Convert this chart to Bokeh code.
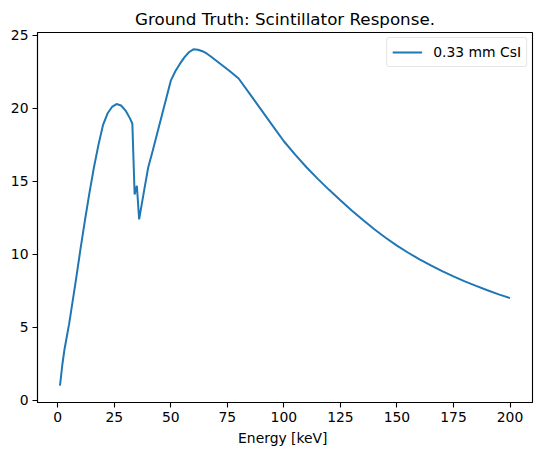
from bokeh.plotting import figure
from bokeh.models import Range1d, FixedTicker, Legend, LegendItem
from bokeh.embed import file_html
from bokeh.resources import INLINE

# Data
energy_kev = [1, 2, 3, 4, 5, 6, 8, 10, 12, 14, 16, 18, 20, 22, 24, 26, 28, 30,
              32, 33, 34, 35, 36, 38, 40, 42, 44, 46, 48, 50, 52, 54, 56, 58,
              60, 62, 64, 66, 68, 70, 72, 74, 76, 78, 80, 85, 90, 95, 100, 105,
              110, 115, 120, 125, 130, 135, 140, 145, 150, 155, 160, 165, 170,
              175, 180, 185, 190, 195, 200]
response = [1.0, 2.4, 3.5, 4.35, 5.2, 6.2, 8.2, 10.3, 12.3, 14.2, 15.95, 17.5,
            18.85, 19.65, 20.1, 20.3, 20.2, 19.85, 19.3, 18.95, 14.1, 14.7, 12.4,
            14.2, 15.95, 17.1, 18.3, 19.5, 20.7, 21.9, 22.55, 23.05, 23.5, 23.85,
            24.05, 24.02, 23.92, 23.75, 23.52, 23.28, 23.04, 22.8, 22.56, 22.31,
            22.05, 20.98, 19.9, 18.82, 17.75, 16.83, 15.97, 15.17, 14.42, 13.71,
            13.01, 12.35, 11.72, 11.14, 10.6, 10.11, 9.66, 9.24, 8.85, 8.49, 8.15,
            7.84, 7.54, 7.26, 7.0]
x_ticks = [0, 25, 50, 75, 100, 125, 150, 175, 200]
y_ticks = [0, 5, 10, 15, 20, 25]
series_label = "0.33 mm CsI"
title_text = "Ground Truth: Scintillator Response."
x_label = "Energy  [keV]"

FONT = "DejaVu Sans"

xr = max(energy_kev) - min(energy_kev)
yr = max(response) - min(response)
x_range = Range1d(min(energy_kev) - 0.05 * xr, max(energy_kev) + 0.05 * xr)
y_range = Range1d(min(response) - 0.05 * yr, max(response) + 0.05 * yr)

p = figure(width=543, height=455, output_backend="svg", toolbar_location=None,
           x_range=x_range, y_range=y_range,
           min_border_left=37, min_border_right=11, min_border_top=32,
           min_border_bottom=53)

p.title.text = title_text
p.title.align = "center"
p.title.text_font = FONT
p.title.text_font_size = "16.7px"
p.title.text_font_style = "normal"
p.title.text_color = "black"
p.title.standoff = 8

r = p.line(energy_kev, response, line_color="#1f77b4", line_width=2)

p.xgrid.visible = False
p.ygrid.visible = False
p.outline_line_color = "black"
p.outline_line_width = 1.1
p.background_fill_color = "white"
p.border_fill_color = "white"

for ax in (p.xaxis[0], p.yaxis[0]):
    ax.axis_line_color = "black"
    ax.axis_line_width = 1.1
    ax.major_tick_out = 5
    ax.major_tick_in = 0
    ax.major_tick_line_color = "black"
    ax.major_tick_line_width = 1.1
    ax.minor_tick_line_color = None
    ax.major_label_text_font = FONT
    ax.major_label_text_font_size = "13.9px"
    ax.major_label_text_color = "black"
    ax.major_label_standoff = 4

p.xaxis[0].ticker = FixedTicker(ticks=x_ticks)
p.yaxis[0].ticker = FixedTicker(ticks=y_ticks)
p.xaxis[0].axis_label = x_label
p.xaxis[0].axis_label_text_font = FONT
p.xaxis[0].axis_label_text_font_size = "13.9px"
p.xaxis[0].axis_label_text_font_style = "normal"
p.xaxis[0].axis_label_text_color = "black"
p.xaxis[0].axis_label_standoff = 5

legend = Legend(items=[LegendItem(label=series_label, renderers=[r])],
                location="top_right")
legend.margin = 5
legend.padding = 5
legend.spacing = 0
legend.glyph_width = 30
legend.glyph_height = 18
legend.label_height = 18
legend.label_standoff = 11
legend.label_text_font = FONT
legend.label_text_font_size = "13.9px"
legend.label_text_color = "black"
legend.border_line_color = "#cccccc"
legend.border_line_width = 1
legend.background_fill_color = "white"
legend.background_fill_alpha = 0.8
if "border_radius" in legend.properties():
    legend.border_radius = 3
p.add_layout(legend)

open("out.html", "w").write(file_html(p, INLINE))
